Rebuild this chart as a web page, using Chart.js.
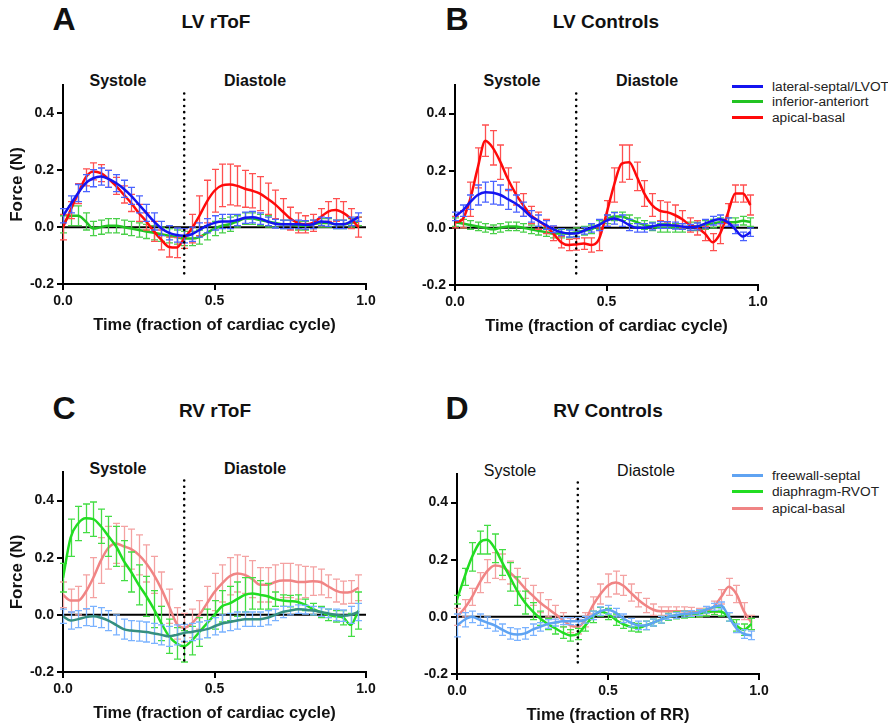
<!DOCTYPE html>
<html>
<head>
<meta charset="utf-8">
<script src="https://cdn.jsdelivr.net/npm/chart.js@4.4.0/dist/chart.umd.min.js"></script>
<style>
  html,body{margin:0;padding:0;background:#fff;}
  body{width:888px;height:727px;position:relative;overflow:hidden;font-family:"Liberation Sans",Arial,Helvetica,sans-serif;color:#111;}
  .box{position:absolute;}
  .t{position:absolute;transform:translate(-50%,-50%);white-space:nowrap;line-height:1;}
  .letter{font-size:32px;font-weight:bold;}
  .title{font-size:19px;font-weight:bold;}
  .phase{font-size:16px;font-weight:bold;}
  .phase.normal{font-weight:normal;}
  .leg{position:absolute;left:732px;height:16px;font-size:13.7px;color:#222;white-space:nowrap;}
  .leg span.sw{position:absolute;left:0;top:6px;width:31px;height:3px;}
  .leg span.tx{position:absolute;left:40px;top:0;line-height:16px;}
</style>
</head>
<body>

<div class="t letter" style="left:64px;top:19px">A</div>
<div class="t title" style="left:216px;top:21px">LV rToF</div>
<div class="t letter" style="left:457px;top:19px">B</div>
<div class="t title" style="left:606px;top:21px">LV Controls</div>
<div class="t letter" style="left:64px;top:408px">C</div>
<div class="t title" style="left:215px;top:410px">RV rToF</div>
<div class="t letter" style="left:457px;top:408px">D</div>
<div class="t title" style="left:608px;top:410px">RV Controls</div>

<div class="t phase" style="left:118px;top:81px">Systole</div>
<div class="t phase" style="left:255px;top:81px">Diastole</div>
<div class="t phase" style="left:512px;top:81px">Systole</div>
<div class="t phase" style="left:647px;top:81px">Diastole</div>
<div class="t phase" style="left:118px;top:469px">Systole</div>
<div class="t phase" style="left:255px;top:469px">Diastole</div>
<div class="t phase normal" style="left:510px;top:471px">Systole</div>
<div class="t phase normal" style="left:646px;top:471px">Diastole</div>

<div id="legLV"></div>
<div id="legRV"></div>

<div class="box" style="left:0px;top:60px;"><canvas id="cA" width="386" height="280"></canvas></div>
<div class="box" style="left:392px;top:60px;"><canvas id="cB" width="386" height="281"></canvas></div>
<div class="box" style="left:0px;top:447px;"><canvas id="cC" width="386" height="281"></canvas></div>
<div class="box" style="left:394px;top:449px;"><canvas id="cD" width="385" height="281"></canvas></div>

<script>
// ---------- data ----------
const timePoints = [0,0.025,0.05,0.075,0.1,0.125,0.15,0.175,0.2,0.225,0.25,0.275,0.3,0.325,0.35,0.375,0.4,0.425,0.45,0.475,0.5,0.525,0.55,0.575,0.6,0.625,0.65,0.675,0.7,0.725,0.75,0.775,0.8,0.825,0.85,0.875,0.9,0.925,0.95,0.975];
const yTicks = [-0.2, 0, 0.2, 0.4];
const xTicks = [0, 0.5, 1];
const yRange = [-0.2, 0.5];
const xRange = [0, 1];
const phaseDivider = 0.4;
const dividerSpan = [-0.18, 0.47];

const lvSeriesNames = ["lateral-septal/LVOT", "inferior-anteriort", "apical-basal"];
const rvSeriesNames = ["freewall-septal", "diaphragm-RVOT", "apical-basal"];

// Panel A: LV rToF
const aLateral = [0.04,0.08,0.12,0.155,0.172,0.178,0.17,0.155,0.135,0.11,0.08,0.05,0.02,-0.005,-0.02,-0.028,-0.03,-0.025,-0.01,0.005,0.015,0.02,0.02,0.025,0.033,0.035,0.03,0.02,0.012,0.01,0.01,0.01,0.008,0.01,0.02,0.018,0.01,0.01,0.02,0.035];
const aLateralErr = [0.025,0.03,0.03,0.03,0.03,0.03,0.03,0.03,0.03,0.03,0.03,0.03,0.03,0.025,0.025,0.025,0.025,0.025,0.025,0.025,0.025,0.025,0.025,0.02,0.02,0.02,0.02,0.015,0.015,0.015,0.015,0.015,0.015,0.015,0.015,0.015,0.015,0.015,0.015,0.015];
const aInferior = [0.01,0.04,0.04,0.02,-0.005,0.0,0.005,0.005,0.0,-0.005,-0.01,-0.015,-0.02,-0.025,-0.03,-0.035,-0.04,-0.04,-0.035,-0.02,-0.005,0.005,0.01,0.02,0.03,0.03,0.025,0.02,0.015,0.01,0.01,0.005,0.005,0.01,0.015,0.015,0.01,0.01,0.015,0.02];
const aInferiorErr = [0.03,0.035,0.035,0.03,0.025,0.025,0.025,0.025,0.025,0.025,0.025,0.025,0.025,0.025,0.025,0.025,0.025,0.025,0.025,0.025,0.025,0.025,0.025,0.02,0.02,0.02,0.02,0.02,0.015,0.015,0.015,0.015,0.015,0.015,0.015,0.015,0.015,0.015,0.015,0.015];
const aApical = [0.0,0.06,0.118,0.175,0.196,0.19,0.17,0.145,0.115,0.085,0.05,0.02,-0.015,-0.045,-0.07,-0.072,-0.04,-0.005,0.04,0.09,0.128,0.147,0.15,0.145,0.135,0.128,0.118,0.1,0.08,0.055,0.03,0.015,0.01,0.015,0.035,0.055,0.06,0.05,0.03,0.0];
const aApicalErr = [0.045,0.03,0.035,0.03,0.03,0.03,0.03,0.03,0.03,0.03,0.03,0.03,0.035,0.035,0.035,0.035,0.035,0.05,0.07,0.075,0.075,0.075,0.072,0.07,0.065,0.06,0.06,0.055,0.05,0.045,0.04,0.035,0.03,0.03,0.03,0.035,0.04,0.04,0.035,0.035];

// Panel B: LV Controls
const bLateral = [0.04,0.06,0.09,0.115,0.125,0.123,0.115,0.1,0.085,0.065,0.04,0.025,0.01,-0.005,-0.015,-0.02,-0.02,-0.01,0.0,0.01,0.025,0.033,0.025,0.01,0.0,0.0,0.005,0.01,0.01,0.008,0.005,0.002,0.005,0.015,0.025,0.03,0.02,-0.005,-0.03,-0.015];
const bLateralErr = [0.015,0.02,0.025,0.035,0.035,0.04,0.035,0.035,0.03,0.025,0.02,0.02,0.015,0.012,0.012,0.012,0.012,0.012,0.015,0.02,0.02,0.02,0.02,0.02,0.015,0.015,0.012,0.012,0.012,0.012,0.01,0.01,0.012,0.015,0.015,0.015,0.015,0.015,0.015,0.015];
const bInferior = [0.02,0.015,0.01,0.005,0.0,-0.005,0.0,0.005,0.005,0.0,-0.005,-0.01,-0.015,-0.02,-0.02,-0.02,-0.015,-0.01,-0.005,0.01,0.03,0.04,0.04,0.03,0.02,0.01,0.005,0.0,0.0,0.0,0.0,0.005,0.005,0.01,0.015,0.02,0.02,0.02,0.025,0.02];
const bInferiorErr = [0.015,0.015,0.015,0.015,0.015,0.015,0.015,0.015,0.015,0.015,0.015,0.015,0.015,0.015,0.015,0.015,0.015,0.015,0.015,0.015,0.015,0.015,0.015,0.015,0.015,0.015,0.015,0.015,0.015,0.015,0.015,0.015,0.015,0.015,0.015,0.015,0.015,0.015,0.015,0.015];
const bApical = [0.02,0.03,0.1,0.21,0.305,0.28,0.23,0.17,0.12,0.08,0.045,0.025,0.005,-0.02,-0.05,-0.06,-0.058,-0.055,-0.06,-0.04,0.05,0.15,0.225,0.23,0.18,0.12,0.08,0.06,0.055,0.045,0.03,0.01,0.0,-0.02,-0.05,-0.02,0.05,0.12,0.12,0.08];
const bApicalErr = [0.02,0.03,0.06,0.07,0.055,0.06,0.06,0.04,0.04,0.04,0.03,0.03,0.025,0.025,0.02,0.02,0.02,0.02,0.025,0.04,0.045,0.06,0.065,0.06,0.05,0.045,0.04,0.035,0.035,0.035,0.03,0.025,0.025,0.025,0.03,0.035,0.035,0.03,0.03,0.035];

// Panel C: RV rToF
const cFreewall = [-0.005,-0.02,-0.015,-0.008,-0.005,-0.01,-0.02,-0.035,-0.05,-0.055,-0.057,-0.06,-0.065,-0.07,-0.075,-0.07,-0.063,-0.06,-0.055,-0.05,-0.04,-0.03,-0.025,-0.02,-0.015,-0.015,-0.015,-0.01,0.0,0.01,0.015,0.02,0.018,0.015,0.01,0.005,0.0,-0.003,0.0,0.01];
const cFreewallErr = [0.025,0.03,0.03,0.03,0.035,0.035,0.035,0.035,0.035,0.035,0.035,0.035,0.035,0.035,0.035,0.035,0.03,0.03,0.03,0.03,0.03,0.03,0.03,0.03,0.025,0.025,0.025,0.025,0.02,0.02,0.015,0.015,0.015,0.015,0.015,0.015,0.02,0.02,0.03,0.03];
const cDiaphragm = [0.13,0.27,0.32,0.338,0.335,0.31,0.275,0.24,0.19,0.15,0.105,0.065,0.02,-0.03,-0.075,-0.1,-0.11,-0.09,-0.06,-0.03,0.0,0.03,0.04,0.055,0.07,0.075,0.07,0.065,0.055,0.05,0.048,0.045,0.035,0.02,0.01,0.0,-0.005,-0.01,-0.035,0.015];
const cDiaphragmErr = [0.05,0.065,0.06,0.05,0.06,0.06,0.07,0.07,0.07,0.07,0.07,0.07,0.065,0.06,0.06,0.055,0.055,0.05,0.05,0.05,0.05,0.055,0.06,0.06,0.06,0.055,0.05,0.045,0.025,0.02,0.02,0.025,0.02,0.02,0.02,0.02,0.02,0.025,0.04,0.065];
const cApical = [0.07,0.05,0.05,0.08,0.13,0.19,0.235,0.25,0.24,0.23,0.21,0.18,0.14,0.09,0.03,-0.03,-0.045,-0.03,0.0,0.04,0.08,0.11,0.135,0.145,0.14,0.125,0.105,0.105,0.115,0.12,0.12,0.115,0.115,0.118,0.115,0.1,0.085,0.078,0.08,0.095];
const cApicalErr = [0.045,0.04,0.05,0.06,0.07,0.08,0.075,0.07,0.07,0.07,0.07,0.065,0.065,0.06,0.06,0.055,0.05,0.05,0.05,0.06,0.065,0.065,0.065,0.065,0.065,0.065,0.06,0.06,0.06,0.06,0.06,0.06,0.055,0.05,0.045,0.04,0.04,0.04,0.04,0.045];

// Panel D: RV Controls
const dFreewall = [-0.03,-0.01,0.0,-0.01,-0.02,-0.03,-0.045,-0.058,-0.062,-0.058,-0.045,-0.035,-0.025,-0.02,-0.015,-0.015,-0.015,-0.01,0.005,0.02,0.025,0.015,-0.005,-0.02,-0.03,-0.03,-0.02,-0.01,0.0,0.005,0.01,0.012,0.015,0.025,0.035,0.04,0.0,-0.04,-0.06,-0.065];
const dFreewallErr = [0.04,0.025,0.02,0.02,0.02,0.02,0.02,0.02,0.02,0.02,0.02,0.015,0.015,0.012,0.012,0.012,0.012,0.012,0.015,0.015,0.015,0.015,0.015,0.015,0.015,0.015,0.012,0.012,0.01,0.01,0.01,0.01,0.01,0.012,0.012,0.012,0.015,0.015,0.015,0.015];
const dDiaphragm = [0.06,0.14,0.21,0.26,0.27,0.24,0.19,0.14,0.09,0.05,0.02,-0.005,-0.025,-0.04,-0.055,-0.065,-0.06,-0.03,0.0,0.018,0.01,-0.01,-0.025,-0.035,-0.038,-0.03,-0.02,-0.01,0.0,0.005,0.008,0.01,0.012,0.015,0.02,0.018,0.0,-0.03,-0.045,-0.025];
const dDiaphragmErr = [0.015,0.03,0.05,0.04,0.05,0.05,0.045,0.05,0.05,0.04,0.03,0.025,0.02,0.02,0.02,0.02,0.02,0.02,0.02,0.015,0.02,0.02,0.015,0.015,0.015,0.015,0.012,0.012,0.012,0.012,0.012,0.012,0.012,0.012,0.012,0.015,0.015,0.02,0.02,0.02];
const dApical = [0.0,0.03,0.07,0.12,0.16,0.18,0.175,0.155,0.13,0.1,0.075,0.05,0.03,0.01,-0.01,-0.03,-0.035,-0.01,0.04,0.08,0.11,0.12,0.11,0.085,0.06,0.04,0.025,0.02,0.02,0.02,0.02,0.018,0.015,0.02,0.035,0.07,0.105,0.08,0.02,-0.02];
const dApicalErr = [0.03,0.03,0.03,0.035,0.04,0.045,0.045,0.04,0.04,0.035,0.035,0.035,0.03,0.03,0.025,0.025,0.025,0.025,0.03,0.035,0.04,0.04,0.035,0.03,0.025,0.025,0.02,0.015,0.015,0.015,0.015,0.015,0.015,0.015,0.02,0.025,0.03,0.03,0.03,0.025];

// ---------- styles ----------
const FONT = '"Liberation Sans", Arial, Helvetica, sans-serif';
Chart.defaults.font.family = FONT;
Chart.defaults.color = '#111';

const lvColors = {line:['#1414f0','#22c322','#ff0a0a'], err:['#4a62ff','#4ad04a','#ff5050']};
const rvColors = {lineC:['#358f80','#22dd22','#f08484'], lineD:['#5fa3f2','#22dd22','#f08484'], err:['#7ab2ff','#44dd44','#f4a2a2']};

// legends (HTML)
function buildLegend(id, names, colors, tops){
  const host = document.getElementById(id);
  names.forEach((n,i)=>{
    const d = document.createElement('div');
    d.className='leg'; d.style.top = (tops[i]-8)+'px';
    d.innerHTML = '<span class="sw" style="background:'+colors[i]+'"></span><span class="tx">'+n+'</span>';
    host.appendChild(d);
  });
}
buildLegend('legLV', lvSeriesNames, lvColors.line, [87,102,118]);
buildLegend('legRV', rvSeriesNames, rvColors.lineD, [476,492,509]);

// ---------- plugin: zero line, divider, error bars ----------
const decor = {
  id:'decor',
  beforeDatasetsDraw(chart){
    const {ctx, chartArea:a, scales:{x,y}} = chart;
    ctx.save();
    ctx.strokeStyle='#000'; ctx.lineWidth=2;
    const y0 = y.getPixelForValue(0);
    ctx.beginPath(); ctx.moveTo(a.left,y0); ctx.lineTo(a.right,y0); ctx.stroke();
    ctx.restore();
  },
  beforeDatasetDraw(chart,args){
    const ds = chart.data.datasets[args.index];
    if(!ds.errorValues) return;
    const {ctx, scales:{x,y}} = chart;
    ctx.save();
    ctx.strokeStyle = ds.errorColor; ctx.lineWidth = 1.3;
    ctx.beginPath();
    ds.data.forEach((p,i)=>{
      const e = ds.errorValues[i];
      const px = Math.round(x.getPixelForValue(p.x))+0.5;
      const yt = y.getPixelForValue(p.y+e), yb = y.getPixelForValue(p.y-e);
      ctx.moveTo(px,yt); ctx.lineTo(px,yb);
      ctx.moveTo(px-3.5,yt); ctx.lineTo(px+3.5,yt);
      ctx.moveTo(px-3.5,yb); ctx.lineTo(px+3.5,yb);
    });
    ctx.stroke();
    ctx.restore();
  },
  afterDatasetsDraw(chart){
    const {ctx, scales:{x,y}} = chart;
    const xd = x.getPixelForValue(phaseDivider);
    ctx.save();
    ctx.strokeStyle='#000'; ctx.lineWidth=2.6; ctx.lineCap='round';
    ctx.setLineDash([0,6.2]);
    ctx.beginPath();
    ctx.moveTo(xd, y.getPixelForValue(dividerSpan[1]));
    ctx.lineTo(xd, y.getPixelForValue(dividerSpan[0]));
    ctx.stroke();
    ctx.restore();
  }
};

function series(label, vals, errs, color, errColor, order){
  return {
    label, data: timePoints.map((t,i)=>({x:t, y:vals[i]})),
    errorValues: errs, errorColor: errColor,
    borderColor: color, backgroundColor: color, borderWidth: 2.5,
    pointRadius: 0, cubicInterpolationMode:'monotone', fill:false, order
  };
}

function makeChart(id, datasets, xTitle, showYTitle){
  return new Chart(document.getElementById(id), {
    type:'line',
    data:{datasets},
    plugins:[decor],
    options:{
      responsive:false, animation:false, events:[],
      layout:{padding:{top:25,right:20,left:0,bottom:0}},
      plugins:{legend:{display:false}, tooltip:{enabled:false}},
      scales:{
        x:{
          type:'linear', min:xRange[0], max:xRange[1],
          afterBuildTicks(s){ s.ticks = xTicks.map(v=>({value:v})); },
          afterFit(s){ s.height = 56; },
          grid:{drawOnChartArea:false, drawTicks:true, tickLength:6, color:'#000', lineWidth:2},
          border:{display:true, color:'#000', width:2},
          ticks:{font:{size:14, weight:'bold'}, color:'#111', padding:3, maxRotation:0,
                 callback:(v)=>Number(v).toFixed(1)},
          title:{display:true, text:xTitle, font:{size:16.5, weight:'bold'}, color:'#111', padding:{top:0,bottom:5}}
        },
        y:{
          type:'linear', min:yRange[0], max:yRange[1],
          afterBuildTicks(s){ s.ticks = yTicks.map(v=>({value:v})); },
          afterFit(s){ s.width = 63; },
          grid:{drawOnChartArea:false, drawTicks:true, tickLength:6, color:'#000', lineWidth:2},
          border:{display:true, color:'#000', width:2},
          ticks:{font:{size:14, weight:'bold'}, color:'#111', padding:3,
                 callback:(v)=>Number(v).toFixed(1)},
          title:{display:showYTitle, text:'Force (N)', font:{size:17, weight:'bold'}, color:'#111', padding:{top:7,bottom:0}}
        }
      }
    }
  });
}

const cardiac = 'Time (fraction of cardiac cycle)';

makeChart('cA', [
  series(lvSeriesNames[0], aLateral, aLateralErr, lvColors.line[0], lvColors.err[0], 0),
  series(lvSeriesNames[1], aInferior, aInferiorErr, lvColors.line[1], lvColors.err[1], 2),
  series(lvSeriesNames[2], aApical, aApicalErr, lvColors.line[2], lvColors.err[2], 1)
], cardiac, true);

makeChart('cB', [
  series(lvSeriesNames[0], bLateral, bLateralErr, lvColors.line[0], lvColors.err[0], 0),
  series(lvSeriesNames[1], bInferior, bInferiorErr, lvColors.line[1], lvColors.err[1], 2),
  series(lvSeriesNames[2], bApical, bApicalErr, lvColors.line[2], lvColors.err[2], 1)
], cardiac, false);

makeChart('cC', [
  series(rvSeriesNames[0], cFreewall, cFreewallErr, rvColors.lineC[0], rvColors.err[0], 0),
  series(rvSeriesNames[1], cDiaphragm, cDiaphragmErr, rvColors.lineC[1], rvColors.err[1], 1),
  series(rvSeriesNames[2], cApical, cApicalErr, rvColors.lineC[2], rvColors.err[2], 2)
], cardiac, true);

makeChart('cD', [
  series(rvSeriesNames[0], dFreewall, dFreewallErr, rvColors.lineD[0], rvColors.err[0], 0),
  series(rvSeriesNames[1], dDiaphragm, dDiaphragmErr, rvColors.lineD[1], rvColors.err[1], 1),
  series(rvSeriesNames[2], dApical, dApicalErr, rvColors.lineD[2], rvColors.err[2], 2)
], 'Time (fraction of RR)', false);
</script>
</body>
</html>
